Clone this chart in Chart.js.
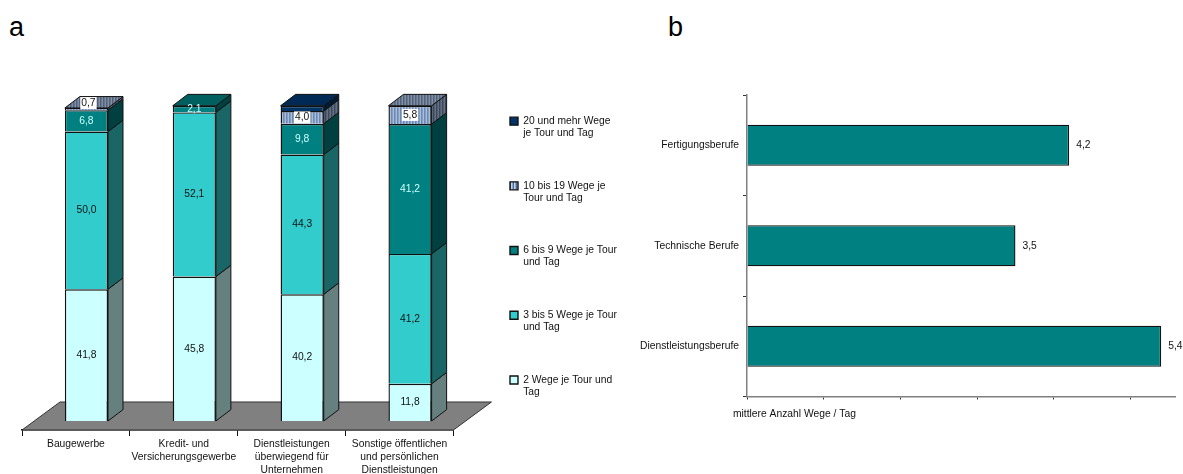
<!DOCTYPE html>
<html lang="de">
<head>
  <meta charset="UTF-8">
  <title>Wege je Tour und Tag</title>
  <script src="https://cdn.jsdelivr.net/npm/chart.js"></script>
  <style>
    body { margin: 0; background: #fff; font-family: "Liberation Sans", Arial, sans-serif; }
    #wrap { position: relative; width: 1183px; height: 474px; overflow: hidden; }
    .letter { position: absolute; top: 11px; font-size: 27px; line-height: 32px; color: #000; }
    .box { position: absolute; top: 0; height: 474px; }
  </style>
</head>
<body>
  <div id="wrap">
    <div class="letter" style="left:9px">a</div>
    <div class="letter" style="left:668px">b</div>
    <div class="box" style="left:0;width:640px"><canvas id="chartA"></canvas></div>
    <div class="box" style="left:630px;width:553px"><canvas id="chartB"></canvas></div>
  </div>
  <script>
    // chart a: share of tours by number of trips
    const branches = [
      'Baugewerbe',
      ['Kredit- und', 'Versicherungsgewerbe'],
      ['Dienstleistungen', 'überwiegend für', 'Unternehmen'],
      ['Sonstige öffentlichen', 'und persönlichen', 'Dienstleistungen']
    ];
    const wege2 = [41.8, 45.8, 40.2, 11.8];
    const wege3bis5 = [50.0, 52.1, 44.3, 41.2];
    const wege6bis9 = [6.8, 2.1, 9.8, 41.2];
    const wege10bis19 = [0.7, null, 4.0, 5.8];
    const wege20 = [null, null, 1.7, null];

    // chart b: mean number of trips per day
    const berufe = ['Fertigungsberufe', 'Technische Berufe', 'Dienstleistungsberufe'];
    const mittlereWege = [4.2, 3.5, 5.4];

    const FONT = 'Liberation Sans, Arial, sans-serif';
    const SMALL = 10.3;
    const DEPTH_X = 15;
    const DEPTH_Y = -11.4;
    const BAR_SHIFT = 10.5; // bars stand back on the floor, right of the category centre

    function stripes(colors) {
      const c = document.createElement('canvas');
      c.width = colors.length;
      c.height = 2;
      const g = c.getContext('2d');
      colors.forEach((col, i) => {
        g.fillStyle = col;
        g.fillRect(i, 0, 1, 2);
      });
      return g.createPattern(c, 'repeat');
    }

    const stripeFront = stripes(['#4a6a9c', '#c3d3e8', '#8fa9cf']);
    const stripeSide = stripes(['#2a3648', '#7d8898', '#4c5a70']);
    const stripeTop = stripes(['#3a4a65', '#99a4b5', '#6a7a93']);

    const seriesA = [
      { label: ['2 Wege je Tour und', 'Tag'], data: wege2, color: '#ccffff', side: '#668080', top: '#99bfbf', text: '#111' },
      { label: ['3 bis 5 Wege je Tour', 'und Tag'], data: wege3bis5, color: '#33cccc', side: '#1a6666', top: '#26999a', text: '#111' },
      { label: ['6 bis 9 Wege je Tour', 'und Tag'], data: wege6bis9, color: '#008080', side: '#004040', top: '#006060', text: '#ccffff' },
      { label: ['10 bis 19 Wege je', 'Tour und Tag'], data: wege10bis19, color: stripeFront, side: stripeSide, top: stripeTop, text: '#111', boxed: true },
      { label: ['20 und mehr Wege', 'je Tour und Tag'], data: wege20, color: '#003366', side: '#001a33', top: '#002a55', text: null }
    ];

    const fmt = (v) => v.toFixed(1).replace('.', ',');

    function face(ctx, pts, fill) {
      ctx.beginPath();
      pts.forEach((p, i) => (i ? ctx.lineTo(p[0], p[1]) : ctx.moveTo(p[0], p[1])));
      ctx.closePath();
      ctx.fillStyle = fill;
      ctx.fill();
      ctx.stroke();
    }

    // floor plus side and top faces, all taken from the scales and bar elements
    const depthPlugin = {
      id: 'depth',
      beforeDatasetsDraw(chart) {
        const { ctx, chartArea: a, scales: { y } } = chart;
        const back = y.getPixelForValue(0) - 19;
        ctx.save();
        ctx.lineWidth = 1;
        ctx.strokeStyle = '#333';
        face(ctx, [[a.left, a.bottom], [a.right, a.bottom], [a.right + 38, back], [a.left + 38, back]], '#808080');
        ctx.strokeStyle = '#111';
        ctx.translate(BAR_SHIFT, 0);
        seriesA.forEach((s, d) => {
          chart.getDatasetMeta(d).data.forEach((bar, i) => {
            if (s.data[i] === null) return;
            const r = bar.x + bar.width / 2;
            face(ctx, [[r, bar.y], [r + DEPTH_X, bar.y + DEPTH_Y], [r + DEPTH_X, bar.base + DEPTH_Y], [r, bar.base]], s.side);
            const above = seriesA.slice(d + 1).some((o) => o.data[i] !== null);
            if (!above) {
              const l = bar.x - bar.width / 2;
              face(ctx, [[l, bar.y], [r, bar.y], [r + DEPTH_X, bar.y + DEPTH_Y], [l + DEPTH_X, bar.y + DEPTH_Y]], s.top);
            }
          });
        });
        // stays translated while the library draws the bar fronts
      },
      afterDatasetsDraw(chart) {
        const { ctx } = chart;
        ctx.font = SMALL + 'px ' + FONT;
        ctx.textAlign = 'center';
        ctx.textBaseline = 'middle';
        seriesA.forEach((s, d) => {
          if (!s.text) return;
          chart.getDatasetMeta(d).data.forEach((bar, i) => {
            const v = s.data[i];
            if (v === null) return;
            // the thinnest segment has its label lifted over the top face
            const cx = bar.x + (v < 1 ? 2 : 0);
            const cy = (bar.y + bar.base) / 2 + (v < 1 ? -6 : 0);
            const txt = fmt(v);
            if (s.boxed) {
              const w = ctx.measureText(txt).width + 2;
              ctx.fillStyle = '#fff';
              ctx.fillRect(cx - w / 2, cy - 6, w, 12);
            }
            ctx.fillStyle = s.text;
            ctx.fillText(txt, cx, cy);
          });
        });
        ctx.restore();
      },
      afterLayout(chart) {
        const lg = chart.legend;
        const w = lg.width;
        lg.left = 510 - lg.options.labels.padding;
        lg.right = lg.left + w;
        lg.top = 116 - lg.options.labels.padding;
      }
    };

    new Chart(document.getElementById('chartA'), {
      type: 'bar',
      data: {
        labels: branches,
        datasets: seriesA.map((s) => ({
          label: s.label,
          data: s.data,
          backgroundColor: s.color,
          borderColor: '#111',
          borderWidth: 1.4,
          categoryPercentage: 1,
          barPercentage: 0.4
        }))
      },
      options: {
        responsive: true,
        maintainAspectRatio: false,
        animation: false,
        layout: { padding: { left: 22, top: 90, right: 29 } },
        plugins: {
          tooltip: { enabled: false },
          legend: {
            position: 'right',
            align: 'start',
            reverse: true,
            labels: {
              boxWidth: 8,
              boxHeight: 8,
              padding: 40.7,
              color: '#111',
              font: { family: FONT, size: SMALL, lineHeight: 12 / SMALL }
            }
          }
        },
        scales: {
          x: {
            stacked: true,
            afterFit(scale) { scale.height = 44; },
            border: { color: '#111', width: 1.5 },
            grid: { drawOnChartArea: false, color: '#111', tickLength: 6 },
            ticks: {
              color: '#111',
              maxRotation: 0,
              autoSkip: false,
              padding: 1,
              font: { family: FONT, size: SMALL, lineHeight: 13.4 / SMALL }
            }
          },
          y: { stacked: true, display: false, min: -2.857, max: 105 }
        }
      },
      plugins: [depthPlugin]
    });

    const barValuePlugin = {
      id: 'barValues',
      afterDatasetsDraw(chart) {
        const { ctx, scales: { x } } = chart;
        ctx.save();
        ctx.font = SMALL + 'px ' + FONT;
        ctx.fillStyle = '#111';
        ctx.textBaseline = 'middle';
        chart.getDatasetMeta(0).data.forEach((bar, i) => {
          ctx.fillText(fmt(mittlereWege[i]), bar.x + 7, bar.y);
        });
        ctx.fillText('mittlere Anzahl Wege / Tag', x.left - 14, 414);
        ctx.restore();
      }
    };

    new Chart(document.getElementById('chartB'), {
      type: 'bar',
      data: {
        labels: berufe,
        datasets: [{
          data: mittlereWege,
          backgroundColor: '#008080',
          borderColor: '#111',
          borderWidth: 1.4,
          categoryPercentage: 1,
          barPercentage: 0.41
        }]
      },
      options: {
        indexAxis: 'y',
        responsive: true,
        maintainAspectRatio: false,
        animation: false,
        layout: { padding: { top: 95, right: 8 } },
        plugins: { legend: { display: false }, tooltip: { enabled: false } },
        scales: {
          x: {
            min: 0,
            max: 5.58,
            afterFit(scale) { scale.height = 77.5; },
            afterBuildTicks(scale) { scale.ticks = scale.ticks.filter((t) => Number.isInteger(t.value)); },
            border: { color: '#808080', width: 1.5 },
            grid: { drawOnChartArea: false, color: '#333', tickLength: 3 },
            ticks: { display: false, stepSize: 1 }
          },
          y: {
            afterFit(scale) { scale.width = 117; },
            border: { color: '#808080', width: 1.5 },
            grid: { drawOnChartArea: false, color: '#333', tickLength: 4 },
            ticks: { color: '#111', padding: 4, font: { family: FONT, size: SMALL } }
          }
        }
      },
      plugins: [barValuePlugin]
    });
  </script>
</body>
</html>
